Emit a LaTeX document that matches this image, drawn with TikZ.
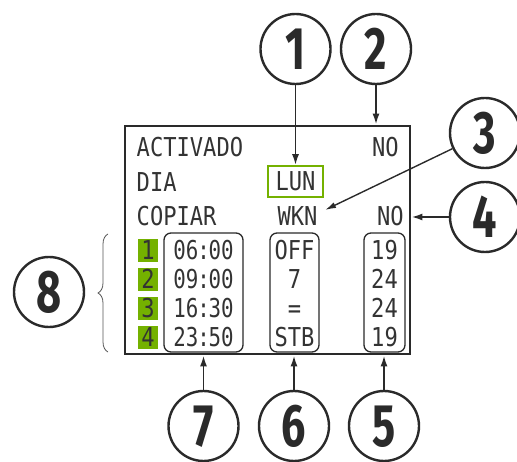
\documentclass[tikz,border=0pt]{standalone}
\usepackage{fontspec}
\usetikzlibrary{arrows.meta,decorations.pathreplacing}
\newfontfamily\lcdfont[FakeStretch=0.85]{DejaVu Sans Mono}
\newfontfamily\lcdnarrow[FakeStretch=0.8]{DejaVu Sans Mono}
\newfontfamily\numfont[FakeStretch=0.72]{Fira Sans}
\definecolor{ink}{HTML}{2A2A2A}
\definecolor{lcdtext}{HTML}{333333}
\definecolor{lcdgreen}{HTML}{74B100}
\newcommand{\tcolon}{\kern-1.2pt:\kern-1.2pt}
\tikzset{
  lcd/.style={inner sep=0pt, text height=19pt, text depth=0pt, text=lcdtext, font=\lcdfont\fontsize{26}{26}\selectfont},
  lcdtime/.style={lcd, font=\lcdnarrow\fontsize{26}{26}\selectfont},
  callout/.style={draw=ink, circle, line width=2.4pt, minimum size=70pt, inner sep=0pt, text=ink,
    text height=41pt, text depth=0pt, font=\numfont\bfseries\fontsize{60}{60}\selectfont},
  arr/.style={draw=ink, line width=1.9pt, -{Latex[length=11pt,width=7pt]}},
  thinarr/.style={draw=ink, line width=1.4pt, -{Latex[length=11pt,width=6pt]}},
  colbox/.style={draw=ink, line width=1.3pt, rounded corners=7pt, inner sep=0pt},
  greensq/.style={fill=lcdgreen, inner sep=0pt, minimum width=20pt, minimum height=23pt},
}
\begin{document}
\begin{tikzpicture}[x=1pt,y=-1pt]
\useasboundingbox (0,0) rectangle (517,462);
% panel
\node[draw=ink, line width=2.8pt, minimum width=285pt, minimum height=228pt, inner sep=0pt] (panel) at (267.5,240) {};
% rows
\node[lcd, anchor=west] (act) at (136.5,147) {ACTIVADO};
\node[lcd, anchor=east] (no1) at (399,147) {NO};
\node[lcd, anchor=west] (dia) at (136.5,182) {DIA};
\node[draw=lcdgreen, line width=1.6pt, minimum width=55pt, minimum height=31pt, lcd] (lun) at (295.5,181.5) {LUN};
\node[lcd, anchor=west] (cop) at (136.5,216.5) {COPIAR};
\node[lcd] (wkn) at (297.5,216.5) {WKN};
\node[lcd, anchor=east] (no2) at (404,216.5) {NO};
% column boxes
\node[colbox, minimum width=79pt, minimum height=119pt] (tbox) at (203.5,292.5) {};
\node[colbox, minimum width=49pt, minimum height=119pt] (mbox) at (294.5,292.5) {};
\node[colbox, minimum width=41pt, minimum height=119pt] (rbox) at (384.5,292.5) {};
% program rows
\foreach \i/\y/\ha/\hb/\m/\r in {1/250.5/06/00/OFF/19, 2/279.5/09/00/7/24, 3/308.5/16/30/=/24, 4/337.5/23/50/STB/19}{
  \node[greensq] (g\i) at (148,\y) {};
  \node[lcd] (gn\i) at (148,\y) {\i};
  \node[lcdtime] (t\i) at (203.5,\y) {\ha\tcolon\hb};
  \node[lcd] (m\i) at (294.5,\y) {\m};
  \node[lcd] (r\i) at (384.5,\y) {\r};
}
% callouts
\node[callout] (c1) at (295.5,49) {1};
\node[callout] (c2) at (376,49) {2};
\node[callout] (c3) at (485,133) {3};
\node[callout] (c4) at (485,217) {4};
\node[callout] (c5) at (384,426) {5};
\node[callout] (c6) at (294,426) {6};
\node[callout] (c7) at (203.5,426) {7};
\node[callout] (c8) at (49,292) {8};
\coordinate (t3) at (325,210);
% connectors
\draw[arr] (c1) -- (c1 |- lun.north);
\draw[arr] (c2) -- (c2 |- panel.north);
\draw[thinarr] (c3) -- (t3);
\draw[arr] (c4) -- (c4 -| panel.east);
\draw[arr] (c5) -- (c5 |- panel.south);
\draw[arr] (c6) -- (c6 |- panel.south);
\draw[arr] (c7) -- (c7 |- panel.south);
% brace
\draw[decorate, decoration={brace, amplitude=10pt}, line width=0.8pt, ink!80] (108,352) -- (108,234);
\end{tikzpicture}
\end{document}
